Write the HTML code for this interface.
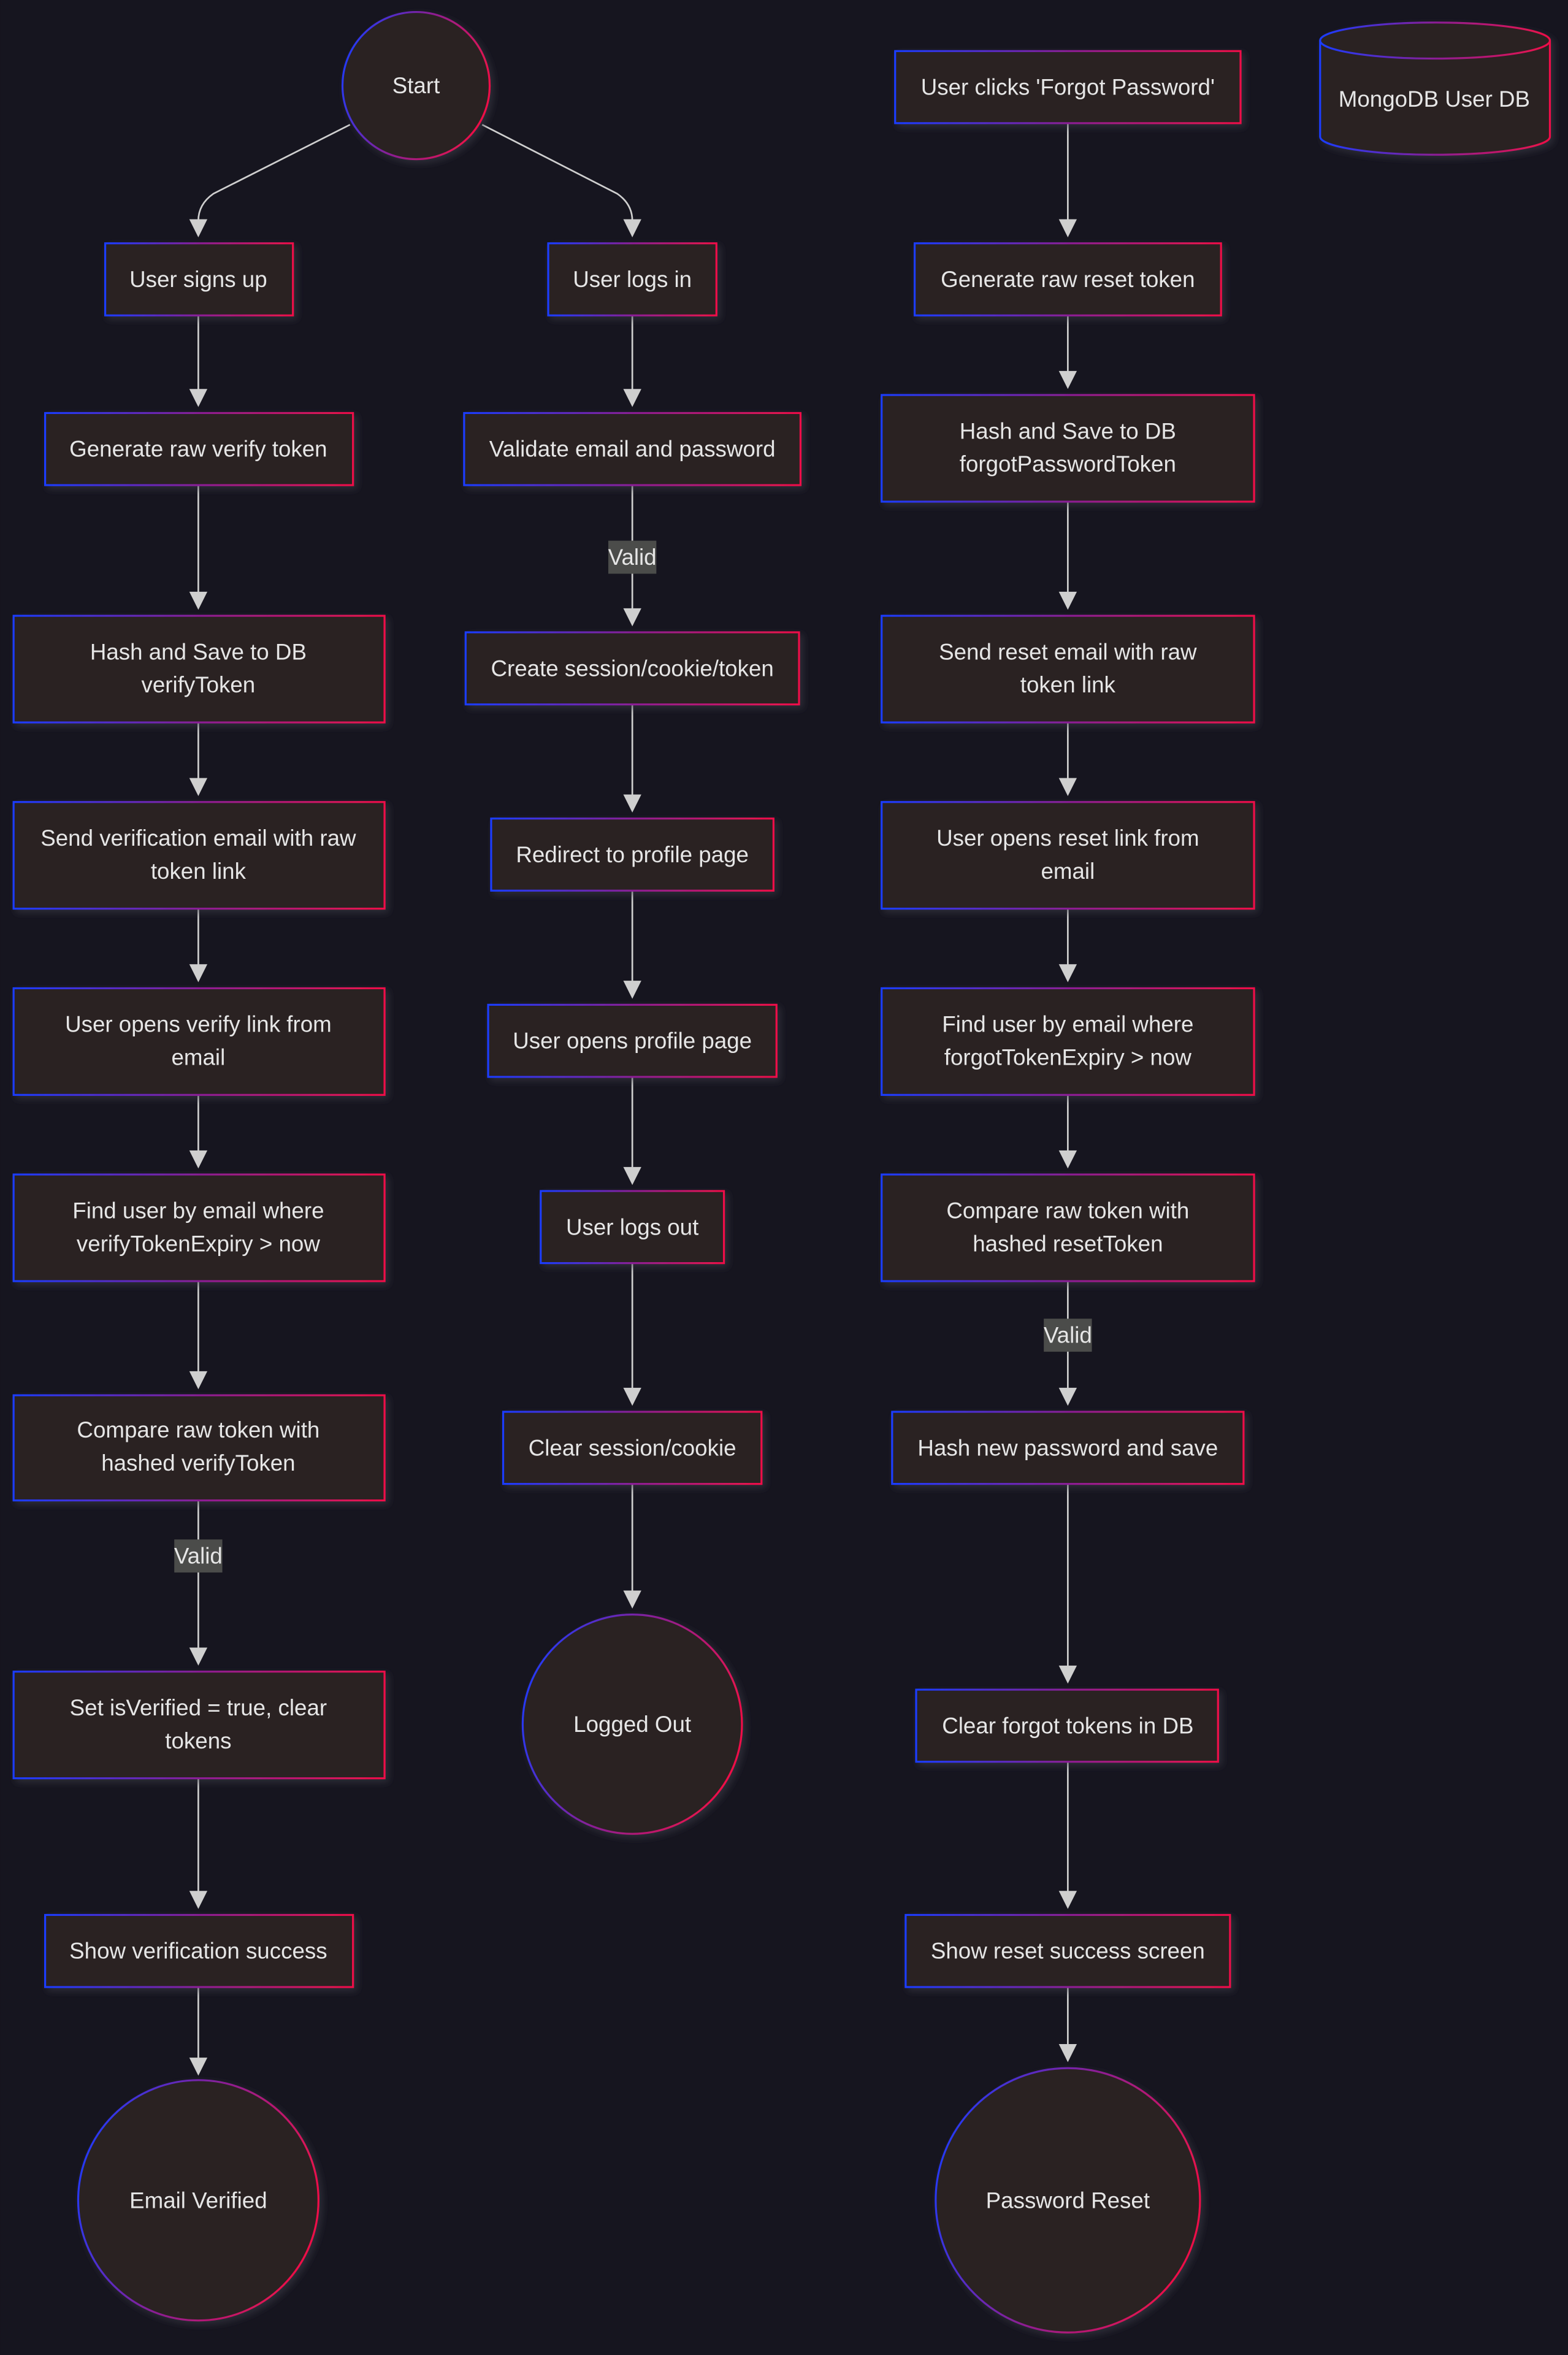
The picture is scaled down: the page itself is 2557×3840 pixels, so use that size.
<!DOCTYPE html>
<html><head><meta charset="utf-8">
<style>
html,body{margin:0;padding:0;background:#16151f;}
svg{display:block}
text{font-family:"Liberation Sans",Arial,sans-serif;font-size:15px;fill:#e6e6e6;text-anchor:middle;dominant-baseline:central}
.n{fill:#2b2121;stroke:url(#g);stroke-width:1.3}
.e{stroke:#cfcfcf;stroke-width:1.1;fill:none}
.a{fill:#cfcfcf}
.lb{fill:#4b4c4a}
</style></head>
<body>
<svg width="2557" height="3840" viewBox="0 0 1044 1568" xmlns="http://www.w3.org/2000/svg">
<defs>
<linearGradient id="g" x1="0" y1="0" x2="1" y2="0">
<stop offset="0" stop-color="#1a3cff"/><stop offset="0.5" stop-color="#8a1f95"/><stop offset="1" stop-color="#ee1048"/>
</linearGradient>
<linearGradient id="gc" x1="0" y1="0.2" x2="1" y2="0.5">
<stop offset="0" stop-color="#1a3cff"/><stop offset="0.5" stop-color="#8a1f95"/><stop offset="1" stop-color="#ee1048"/>
</linearGradient>
<filter id="sh" x="-20%" y="-20%" width="140%" height="140%"><feDropShadow dx="2" dy="2" stdDeviation="2.5" flood-color="#3a3a4a" flood-opacity="0.6"/></filter>
</defs>
<rect width="1044" height="1568" fill="#16151f"/>

<!-- edges -->
<g class="e">
<path d="M233,83 L142,129 Q132,136 132,147 L132,150"/>
<path d="M321,83 L411,129 Q421,136 421,147 L421,150"/>
<line x1="132" y1="210" x2="132" y2="262"/><line x1="132" y1="323" x2="132" y2="397"/>
<line x1="132" y1="481" x2="132" y2="521"/><line x1="132" y1="605" x2="132" y2="645"/>
<line x1="132" y1="729" x2="132" y2="769"/><line x1="132" y1="853" x2="132" y2="916"/>
<line x1="132" y1="999" x2="132" y2="1100"/><line x1="132" y1="1184" x2="132" y2="1262"/>
<line x1="132" y1="1323" x2="132" y2="1373"/>
<line x1="421" y1="210" x2="421" y2="262"/><line x1="421" y1="323" x2="421" y2="408"/>
<line x1="421" y1="469" x2="421" y2="532"/><line x1="421" y1="593" x2="421" y2="656"/>
<line x1="421" y1="717" x2="421" y2="780"/><line x1="421" y1="841" x2="421" y2="927"/>
<line x1="421" y1="988" x2="421" y2="1062"/>
<line x1="711" y1="82" x2="711" y2="149"/><line x1="711" y1="210" x2="711" y2="250"/>
<line x1="711" y1="334" x2="711" y2="397"/><line x1="711" y1="481" x2="711" y2="521"/>
<line x1="711" y1="605" x2="711" y2="645"/><line x1="711" y1="729" x2="711" y2="769"/>
<line x1="711" y1="853" x2="711" y2="927"/><line x1="711" y1="988" x2="711" y2="1112"/>
<line x1="711" y1="1173" x2="711" y2="1262"/><line x1="711" y1="1323" x2="711" y2="1364"/>
</g>
<g class="a">
<polygon points="126,146 138,146 132,158"/>
<polygon points="415,146 427,146 421,158"/>
<polygon points="126,259 138,259 132,271"/><polygon points="126,394 138,394 132,406"/>
<polygon points="126,518 138,518 132,530"/><polygon points="126,642 138,642 132,654"/>
<polygon points="126,766 138,766 132,778"/><polygon points="126,913 138,913 132,925"/>
<polygon points="126,1097 138,1097 132,1109"/><polygon points="126,1259 138,1259 132,1271"/>
<polygon points="126,1370 138,1370 132,1382"/>
<polygon points="415,259 427,259 421,271"/><polygon points="415,405 427,405 421,417"/>
<polygon points="415,529 427,529 421,541"/><polygon points="415,653 427,653 421,665"/>
<polygon points="415,777 427,777 421,789"/><polygon points="415,924 427,924 421,936"/>
<polygon points="415,1059 427,1059 421,1071"/>
<polygon points="705,146 717,146 711,158"/><polygon points="705,247 717,247 711,259"/>
<polygon points="705,394 717,394 711,406"/><polygon points="705,518 717,518 711,530"/>
<polygon points="705,642 717,642 711,654"/><polygon points="705,766 717,766 711,778"/>
<polygon points="705,924 717,924 711,936"/><polygon points="705,1109 717,1109 711,1121"/>
<polygon points="705,1259 717,1259 711,1271"/><polygon points="705,1361 717,1361 711,1373"/>
</g>
<!-- edge labels -->
<rect class="lb" x="405" y="360" width="32" height="22"/><text x="421" y="371">Valid</text>
<rect class="lb" x="116" y="1025" width="32" height="22"/><text x="132" y="1036">Valid</text>
<rect class="lb" x="695" y="878" width="32" height="22"/><text x="711" y="889">Valid</text>

<!-- nodes -->
<g filter="url(#sh)">
<circle class="n" style="stroke:url(#gc)" cx="277" cy="57" r="49"/>
<rect class="n" x="70" y="162" width="125" height="48"/>
<rect class="n" x="365" y="162" width="112" height="48"/>
<rect class="n" x="30" y="275" width="205" height="48"/>
<rect class="n" x="309" y="275" width="224" height="48"/>
<rect class="n" x="9" y="410" width="247" height="71"/>
<rect class="n" x="310" y="421" width="222" height="48"/>
<rect class="n" x="9" y="534" width="247" height="71"/>
<rect class="n" x="327" y="545" width="188" height="48"/>
<rect class="n" x="9" y="658" width="247" height="71"/>
<rect class="n" x="325" y="669" width="192" height="48"/>
<rect class="n" x="9" y="782" width="247" height="71"/>
<rect class="n" x="360" y="793" width="122" height="48"/>
<rect class="n" x="9" y="929" width="247" height="70"/>
<rect class="n" x="335" y="940" width="172" height="48"/>
<rect class="n" x="9" y="1113" width="247" height="71"/>
<circle class="n" style="stroke:url(#gc)" cx="421" cy="1148" r="73"/>
<rect class="n" x="30" y="1275" width="205" height="48"/>
<circle class="n" style="stroke:url(#gc)" cx="132" cy="1465" r="80"/>
<rect class="n" x="596" y="34" width="230" height="48"/>
<rect class="n" x="609" y="162" width="204" height="48"/>
<rect class="n" x="587" y="263" width="248" height="71"/>
<rect class="n" x="587" y="410" width="248" height="71"/>
<rect class="n" x="587" y="534" width="248" height="71"/>
<rect class="n" x="587" y="658" width="248" height="71"/>
<rect class="n" x="587" y="782" width="248" height="71"/>
<rect class="n" x="594" y="940" width="234" height="48"/>
<rect class="n" x="610" y="1125" width="201" height="48"/>
<rect class="n" x="603" y="1275" width="216" height="48"/>
<circle class="n" style="stroke:url(#gc)" cx="711" cy="1465" r="88"/>
<path class="n" d="M879,27 A76.5,12 0 0 1 1032,27 L1032,91 A76.5,12 0 0 1 879,91 Z"/>
<path d="M879,27 A76.5,12 0 0 0 1032,27" fill="none" stroke="url(#g)" stroke-width="1.3"/>
</g>

<!-- texts -->
<text x="277" y="57">Start</text>
<text x="132" y="186">User signs up</text>
<text x="421" y="186">User logs in</text>
<text x="132" y="299">Generate raw verify token</text>
<text x="421" y="299">Validate email and password</text>
<text x="132" y="434">Hash and Save to DB</text><text x="132" y="456">verifyToken</text>
<text x="421" y="445">Create session/cookie/token</text>
<text x="132" y="558">Send verification email with raw</text><text x="132" y="580">token link</text>
<text x="421" y="569">Redirect to profile page</text>
<text x="132" y="682">User opens verify link from</text><text x="132" y="704">email</text>
<text x="421" y="693">User opens profile page</text>
<text x="132" y="806">Find user by email where</text><text x="132" y="828">verifyTokenExpiry &gt; now</text>
<text x="421" y="817">User logs out</text>
<text x="132" y="952">Compare raw token with</text><text x="132" y="974">hashed verifyToken</text>
<text x="421" y="964">Clear session/cookie</text>
<text x="132" y="1137">Set isVerified = true, clear</text><text x="132" y="1159">tokens</text>
<text x="421" y="1148">Logged Out</text>
<text x="132" y="1299">Show verification success</text>
<text x="132" y="1465">Email Verified</text>
<text x="711" y="58">User clicks 'Forgot Password'</text>
<text x="711" y="186">Generate raw reset token</text>
<text x="711" y="287">Hash and Save to DB</text><text x="711" y="309">forgotPasswordToken</text>
<text x="711" y="434">Send reset email with raw</text><text x="711" y="456">token link</text>
<text x="711" y="558">User opens reset link from</text><text x="711" y="580">email</text>
<text x="711" y="682">Find user by email where</text><text x="711" y="704">forgotTokenExpiry &gt; now</text>
<text x="711" y="806">Compare raw token with</text><text x="711" y="828">hashed resetToken</text>
<text x="711" y="964">Hash new password and save</text>
<text x="711" y="1149">Clear forgot tokens in DB</text>
<text x="711" y="1299">Show reset success screen</text>
<text x="711" y="1465">Password Reset</text>
<text x="955" y="66">MongoDB User DB</text>
</svg>
</body></html>
